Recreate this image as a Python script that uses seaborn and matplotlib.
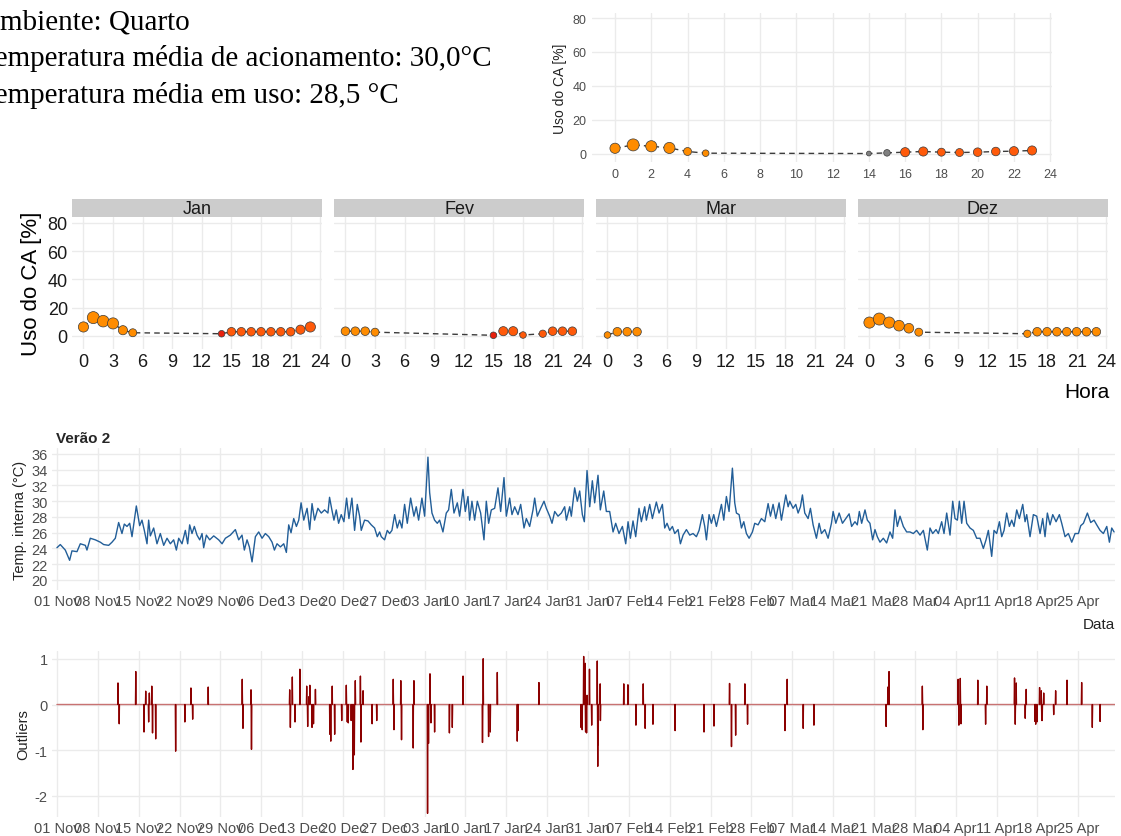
import numpy as np
import pandas as pd
import matplotlib
matplotlib.use("Agg")
import matplotlib.pyplot as plt
import seaborn as sns

# ---------------- data ----------------
# overall hourly AC usage (top right panel)
geral_hora = [0, 1, 2, 3, 4, 5, 14, 15, 16, 17, 18, 19, 20, 21, 22, 23]
geral_uso = [3.1, 5.1, 4.3, 3.3, 1.2, 0.2, 0.0, 0.4, 0.8, 1.2, 0.8, 0.6, 0.8, 1.2, 1.4, 1.8]
geral_peso = [9, 11, 10, 10, 7, 6, 5, 6, 8, 8, 7, 7, 7.5, 7.5, 8, 8]
geral_faixa = ['a', 'a', 'a', 'a', 'a', 'a', 'c', 'c', 'b', 'b', 'b', 'b', 'b', 'b', 'b', 'b']

# monthly facets
meses = ['Jan', 'Fev', 'Mar', 'Dez']
jan_hora = [0, 1, 2, 3, 4, 5, 14, 15, 16, 17, 18, 19, 20, 21, 22, 23]
jan_uso = [6.4, 13.0, 10.5, 8.9, 4.1, 2.3, 1.6, 3.0, 3.0, 3.0, 3.0, 3.0, 3.0, 3.0, 4.5, 6.4]
jan_peso = [9, 11, 10.5, 10, 8, 7, 6, 7.5, 7.5, 7.5, 7.5, 7.5, 7.5, 7.5, 8, 9]
jan_faixa = ['a', 'a', 'a', 'a', 'a', 'a', 'd', 'b', 'b', 'b', 'b', 'b', 'b', 'b', 'b', 'b']

fev_hora = [0, 1, 2, 3, 15, 16, 17, 18, 20, 21, 22, 23]
fev_uso = [3.4, 3.4, 3.4, 2.7, 0.5, 3.4, 3.4, 0.7, 1.6, 3.4, 3.4, 3.4]
fev_peso = [7.5, 7.5, 7.5, 7, 6, 8, 8, 6, 6.5, 7.5, 7.5, 7.5]
fev_faixa = ['a', 'a', 'a', 'a', 'd', 'b', 'b', 'b', 'b', 'b', 'b', 'b']

mar_hora = [0, 1, 2, 3]
mar_uso = [0.7, 3.0, 3.0, 3.0]
mar_peso = [6, 7.5, 7.5, 7.5]
mar_faixa = ['a', 'a', 'a', 'a']

dez_hora = [0, 1, 2, 3, 4, 5, 16, 17, 18, 19, 20, 21, 22, 23]
dez_uso = [9.5, 12.0, 9.5, 7.3, 5.5, 2.7, 1.6, 3.0, 3.0, 3.0, 3.0, 3.0, 3.0, 3.0]
dez_peso = [10, 11, 10, 9.5, 8.5, 7, 6.5, 7.5, 7.5, 7.5, 7.5, 7.5, 7.5, 7.5]
dez_faixa = ['a'] * 14

# indoor temperature (days since 01 Nov 2018, degC)
temp_dia = [0.00, 0.57, 1.43, 2.17, 2.57, 3.43, 4.00, 4.86, 5.14, 5.71, 6.57, 7.43, 8.00, 8.86, 9.43,
            10.00, 10.57, 11.14, 11.54, 12.00, 12.46, 12.86, 13.60, 14.17, 14.57, 14.97, 15.43, 15.71,
            16.00, 16.57, 17.14, 17.71, 18.29, 18.86, 19.43, 20.00, 20.46, 20.86, 21.43, 22.00, 22.40,
            22.74, 23.14, 23.54, 24.00, 24.46, 24.86, 25.14, 25.60, 26.17, 26.86, 27.71, 28.29, 28.86,
            29.71, 30.57, 31.14, 31.71, 32.11, 32.57, 32.97, 33.43, 34.00, 34.57, 35.14, 35.71, 36.29,
            36.86, 37.26, 37.71, 38.29, 38.86, 39.31, 39.71, 40.11, 40.57, 41.03, 41.43, 41.83, 42.29,
            42.86, 43.31, 43.71,
            44.14, 44.71, 45.29, 45.86, 46.43, 46.71, 47.11, 47.46, 47.86, 48.26, 48.71, 49.17, 49.63,
            50.03, 50.54, 51.00, 51.46, 51.86, 52.14, 52.71, 53.29, 53.86, 54.43, 54.89, 55.29, 55.57,
            56.14, 56.60, 57.00, 57.40, 57.86, 58.31, 58.71, 59.11, 59.57, 60.03, 60.60, 61.17, 61.57,
            61.97, 62.54, 63.00, 63.57, 63.86, 64.26, 64.71, 65.17, 65.57, 66.14, 66.71, 67.11, 67.57,
            68.03, 68.60, 69.00, 69.57, 69.97, 70.43, 70.71, 71.11, 71.57, 72.03, 72.60, 73.17, 73.57,
            73.97, 74.43, 75.00, 75.57, 76.03, 76.60, 77.00, 77.57, 77.97, 78.43, 79.00, 79.46, 80.03,
            80.43, 81.00, 81.57, 81.86, 82.31, 82.89, 83.46, 83.86, 84.43, 84.83, 85.29, 85.86, 86.43,
            87.00, 87.29, 87.86, 88.14, 88.71, 89.17, 89.57,
            90.03, 90.37, 90.83, 91.29, 91.74, 92.14, 92.71, 93.11, 93.69, 94.14, 94.71, 95.29, 95.74,
            96.31, 96.89, 97.46, 97.86, 98.26, 98.71, 99.17, 99.74, 100.14, 100.71, 101.00, 101.57,
            102.03, 102.71, 103.17, 103.74, 104.14, 104.54, 105.00, 105.46, 105.86, 106.43, 106.83,
            107.29, 107.86, 108.43, 109.00, 109.57, 110.03, 110.60, 111.00, 111.29, 111.74, 112.14,
            112.54, 113.00, 113.46, 113.86, 114.26, 114.71, 115.17, 115.74, 116.14, 116.43, 116.89,
            117.29, 117.69, 118.14, 118.60, 119.17, 119.57, 120.14, 120.71, 121.29, 121.86, 122.26,
            122.71, 123.17, 123.74, 124.14, 124.54, 124.89, 125.29, 125.57, 126.14, 126.60, 127.00,
            127.40, 127.74, 128.14, 128.71, 129.11, 129.57, 130.14, 130.60, 131.00, 131.57, 132.14,
            132.71, 133.00, 133.46, 134.03, 134.60, 135.17, 135.74,
            136.17, 136.74, 137.14, 137.49, 137.89, 138.46, 138.86, 139.31, 139.77, 140.17, 140.57,
            141.03, 141.60, 142.17, 142.74, 143.20, 143.60, 144.00, 144.46, 145.03, 145.60, 146.17,
            146.74, 147.31, 147.89, 148.46, 149.14, 149.60, 150.06, 150.63, 151.03, 151.60, 152.00,
            152.46, 153.03, 153.49, 153.89, 154.29, 154.63, 155.03, 155.43, 155.89, 156.46, 157.03,
            157.60, 158.17, 158.74, 159.20, 159.60, 160.17, 160.57, 161.03, 161.49, 161.89, 162.29,
            162.74, 163.20, 163.60, 164.00, 164.46, 164.91, 165.49, 165.89, 166.17, 166.74, 167.31,
            167.89, 168.46, 168.91, 169.31, 169.71, 170.17, 170.63, 171.20, 171.77, 172.17, 172.74,
            173.31, 173.89, 174.46, 175.03, 175.43, 175.89, 176.57, 177.14, 177.71, 178.17, 178.74,
            179.31, 179.89, 180.34, 180.74, 181.14]
temp_val = [24.1, 24.5, 23.8, 22.5, 23.7, 23.6, 24.6, 24.4, 23.8, 25.3, 25.1, 24.8, 24.5, 24.4, 24.8,
            25.3, 27.3, 25.9, 27.1, 26.8, 27.2, 25.5, 29.4, 26.9, 27.6, 26.3, 24.6, 27.6,
            25.6, 26.6, 24.6, 25.9, 24.4, 25.3, 24.6, 25.1, 23.8, 25.3, 24.6, 26.3, 24.6,
            27.0, 25.9, 26.8, 25.7, 25.1, 25.9, 24.1, 25.7, 25.1, 25.6, 25.1, 24.6, 25.3,
            25.7, 26.4, 25.1, 25.7, 23.8, 25.1, 24.2, 22.3, 25.5, 26.1, 25.3, 25.9, 25.5,
            24.8, 23.8, 24.6, 24.2, 24.6, 23.5, 27.0, 26.0, 27.8, 26.8, 27.6, 29.8, 27.6,
            29.1, 26.4, 29.7,
            27.6, 29.1, 28.5, 28.9, 28.5, 30.5, 28.9, 27.6, 28.9, 27.2, 28.3, 27.4, 30.4,
            27.8, 30.4, 26.3, 29.6, 28.1, 26.3, 27.6, 27.5, 27.0, 26.6, 25.5, 26.1, 25.5,
            25.1, 26.3, 25.9, 26.3, 28.3, 26.6, 27.6, 26.6, 29.6, 27.2, 30.4, 28.1, 29.3,
            27.6, 30.4, 28.1, 35.6, 31.1, 28.5, 27.6, 27.2, 27.6, 26.1, 28.5, 28.9, 31.5,
            28.5, 29.8, 28.1, 31.5, 28.7, 30.6, 27.6, 30.0, 27.6, 30.0, 28.5, 25.1, 30.0,
            27.2, 28.9, 29.1, 31.7, 28.7, 33.0, 28.1, 30.4, 28.3, 29.3, 28.3, 29.6, 26.6,
            27.8, 26.8, 28.9, 30.4, 28.1, 29.1, 30.0, 29.1, 28.1, 27.2, 28.7, 28.1, 28.5,
            29.3, 27.6, 29.3, 28.1, 31.7, 30.0, 31.3,
            28.3, 27.4, 33.9, 29.3, 32.6, 29.8, 33.3, 28.9, 31.3, 28.7, 28.7, 26.1, 27.2,
            25.9, 26.8, 24.6, 27.4, 25.3, 27.5, 25.5, 29.1, 27.4, 29.3, 27.6, 29.6,
            27.8, 29.9, 28.5, 29.6, 26.6, 27.2, 26.3, 26.8, 25.9, 26.4, 24.6,
            25.7, 26.4, 25.7, 25.9, 25.5, 26.3, 28.3, 26.8, 25.1, 28.3, 27.2,
            28.3, 26.8, 28.3, 29.6, 27.6, 30.6, 28.7, 34.2, 29.8, 28.5, 28.3,
            26.6, 27.4, 25.9, 25.3, 26.1, 27.2, 27.0, 27.8, 27.4, 29.7, 28.1,
            29.6, 27.8, 29.8, 27.6, 29.3, 30.8, 29.3, 30.0, 29.1, 29.6, 28.5,
            29.3, 30.8, 28.5, 27.8, 29.1, 27.0, 25.3, 27.2, 25.9, 26.4, 25.3,
            27.2, 28.7, 27.2, 28.5, 27.2, 27.8, 28.4,
            26.8, 27.4, 27.0, 28.7, 27.2, 28.9, 27.6, 27.2, 25.1, 26.4, 25.5,
            24.8, 25.3, 24.7, 26.1, 25.3, 28.9, 26.8, 28.1, 26.8, 26.1, 26.1,
            25.9, 26.3, 25.7, 26.3, 23.8, 26.6, 25.9, 26.4, 25.9, 27.4, 25.9,
            28.5, 25.7, 30.0, 27.8, 27.6, 30.0, 27.2, 30.0, 27.2, 26.6, 26.3,
            25.3, 25.3, 24.0, 25.1, 26.3, 23.0, 26.3, 25.9, 27.4, 25.5, 26.3,
            28.5, 26.8, 27.6, 26.8, 28.9, 27.8, 29.6, 27.4, 28.3, 25.5, 28.3,
            28.1, 25.9, 27.8, 25.5, 28.5, 27.0, 28.3, 27.4, 28.3, 27.2, 25.5,
            25.9, 24.8, 25.9, 25.9, 26.9, 27.2, 28.5, 27.3, 27.6, 27.0, 26.3,
            25.9, 26.8, 24.8, 26.6, 26.1]

# outliers (days since 01 Nov 2018, value)
outl_dia = [10.47, 10.65, 13.51, 14.91, 15.22, 15.70, 15.82, 16.25, 16.37, 16.92, 20.33, 21.91, 22.95,
            23.25, 25.93, 31.77, 31.89, 33.23, 33.35, 39.87, 39.99, 40.35, 40.78, 41.63, 42.79, 42.97,
            43.15, 43.34, 43.70, 43.94, 44.31, 46.74, 46.93, 47.17, 47.60, 48.81, 49.60, 49.73, 49.91,
            50.40, 50.70, 50.94, 51.13, 51.98, 52.10, 52.47, 53.99, 54.78, 57.64, 57.76, 58.92, 59.04,
            61.05, 61.17, 63.48, 63.66, 63.91, 64.09, 64.70, 67.26, 67.74, 69.57, 72.91, 73.04, 73.95,
            74.25, 75.47, 78.88, 79.00, 82.59,
            89.78, 90.02, 90.27, 90.51, 90.57, 90.76, 90.82, 91.24, 91.61, 92.59, 92.65, 92.77, 93.08,
            93.14, 97.11, 97.85, 99.19, 100.47, 100.78, 102.12, 105.91, 110.87, 112.58, 115.27, 115.57,
            116.31, 117.89, 118.32, 124.74, 125.11, 127.86, 129.69, 142.08, 142.38, 142.57, 148.31,
            148.37, 154.43, 154.55, 154.79, 154.91, 157.79, 159.13, 159.32, 164.08, 164.21, 164.39,
            165.92, 166.10, 167.57, 167.69, 167.93, 168.36, 168.67, 168.73, 168.85, 169.09, 170.80,
            171.11, 173.07, 175.57, 177.41, 178.75]
outl_val = [0.47, -0.42, 0.72, -0.60, 0.29, -0.38, 0.25, 0.40, -0.62, -0.75, -1.02, -0.38, 0.36,
            -0.32, 0.38, 0.55, -0.52, 0.32, -0.98, 0.32, -0.50, 0.60, -0.38, 0.77, 0.40, -0.48,
            0.17, 0.42, -0.50, -0.42, 0.33, -0.65, -0.80, 0.40, -0.65, -0.35, 0.42, -0.38, -0.40,
            -0.35, -1.42, -1.10, 0.52, 0.62, -0.82, 0.30, -0.42, -0.35, 0.55, -0.55, 0.52, -0.77,
            -0.95, 0.52, -2.38, -0.85, 0.67, -0.40, -0.60, -0.62, -0.50, 0.62, -0.83, 1.00, -0.70,
            -0.60, 0.70, -0.80, -0.57, 0.48,
            -0.50, -0.55, 1.05, 0.90, -0.60, -0.62, 0.20, 0.77, -0.45, 0.95, -1.35, -0.88, 0.45,
            -0.35, 0.45, 0.43, -0.45, 0.45, -0.52, -0.43, -0.57, -0.60, -0.47, 0.46, -0.92,
            -0.67, 0.45, -0.43, -0.57, 0.55, -0.52, -0.45, -0.48, 0.38, 0.72, 0.40,
            -0.55, 0.55, -0.45, 0.57, -0.42, 0.53, -0.43, 0.40, 0.58, -0.43, 0.47,
            -0.30, 0.33, -0.37, -0.43, -0.38, 0.37, 0.30, -0.35, -0.35, 0.25, -0.22,
            0.30, 0.53, 0.48, -0.50, -0.37]
outl_fim_dia = 181.5

inicio = pd.Timestamp('2018-11-01')
date_ticks = pd.date_range('2018-11-01', '2019-04-25', freq='7D')

# ---------------- style ----------------
sns.set_style('white')
plt.rcParams['font.family'] = ['Liberation Sans', 'DejaVu Sans']
plt.rcParams['axes.unicode_minus'] = False

W, H = 1121, 837
fig = plt.figure(figsize=(W / 100, H / 100), dpi=100)
GRID = '#EBEBEB'
TXT = '#4D4D4D'
pal = {'a': '#FF8C00', 'b': '#FF5A0A', 'c': '#808080', 'd': '#E8200C'}


def px_axes(x0, y0, x1, y1):
    return fig.add_axes([x0 / W, 1 - y1 / H, (x1 - x0) / W, (y1 - y0) / H])


def minimal(ax):
    for s in ax.spines.values():
        s.set_visible(False)
    ax.grid(True, color=GRID, lw=1.0)
    ax.set_axisbelow(True)
    ax.tick_params(length=0)


def uso_panel(ax, hora, uso, peso, faixa):
    df = pd.DataFrame({'hora': hora, 'uso': uso, 'peso': peso, 'faixa': faixa})
    sns.lineplot(data=df, x='hora', y='uso', ax=ax, color='#3C3C3C', lw=1.0,
                 linestyle=(0, (4, 3)), zorder=2)
    sns.scatterplot(data=df, x='hora', y='uso', hue='faixa', palette=pal, size='peso',
                    sizes=(12, 75), size_norm=(5, 11), edgecolor='#3A3A3A', linewidth=0.5,
                    legend=False, ax=ax, zorder=3)
    ax.set_xlabel('')
    ax.set_ylabel('')


# ---------------- top-left text ----------------
tx = -21 / W
for i, line in enumerate(['Ambiente: Quarto',
                          'Temperatura média de acionamento: 30,0°C',
                          'Temperatura média em uso: 28,5 °C']):
    fig.text(tx, 1 - (30 + 36.5 * i) / H, line, family='Liberation Serif', fontsize=21,
             va='baseline', ha='left', color='black')

# ---------------- top-right overall panel ----------------
ax0 = px_axes(592, 14, 1052, 163)
minimal(ax0)
uso_panel(ax0, geral_hora, geral_uso, geral_peso, geral_faixa)
ax0.set_xlim(-1.27, 24.1)
ax0.set_ylim(-5, 83)
ax0.set_xticks(range(0, 25, 2))
ax0.set_yticks(range(0, 81, 20))
ax0.tick_params(labelsize=9, labelcolor=TXT, pad=4)
ax0.set_ylabel('Uso do CA [%]', fontsize=10, color='#222222', labelpad=4)

# ---------------- monthly facets ----------------
dados_mes = {
    'Jan': (jan_hora, jan_uso, jan_peso, jan_faixa),
    'Fev': (fev_hora, fev_uso, fev_peso, fev_faixa),
    'Mar': (mar_hora, mar_uso, mar_peso, mar_faixa),
    'Dez': (dez_hora, dez_uso, dez_peso, dez_faixa),
}
facet_x = [72, 334, 596, 858]
for i, m in enumerate(meses):
    x0 = facet_x[i]
    ax = px_axes(x0, 218, x0 + 250, 350)
    minimal(ax)
    uso_panel(ax, *dados_mes[m])
    ax.set_xlim(-1.16, 24.18)
    ax.set_ylim(-9.2, 84.2)
    ax.set_xticks(range(0, 25, 3))
    ax.set_yticks(range(0, 81, 20))
    ax.tick_params(labelsize=13, labelcolor='#1A1A1A', pad=3)
    if i > 0:
        ax.set_yticklabels([])
    else:
        ax.set_ylabel('Uso do CA [%]', fontsize=16, color='black', labelpad=4)
    sax = px_axes(x0, 200, x0 + 250, 218)
    sax.set_facecolor('#CCCCCC')
    for s in sax.spines.values():
        s.set_visible(False)
    sax.set_xticks([])
    sax.set_yticks([])
    sax.text(0.5, 0.45, m, ha='center', va='center', fontsize=13, color='#1A1A1A',
             transform=sax.transAxes)
fig.text(1110 / W, 1 - 393 / H, 'Hora', ha='right', va='center', fontsize=15, color='black')

# ---------------- temperature series ----------------
xlo = inicio + pd.Timedelta(days=-0.85)
xhi = inicio + pd.Timedelta(days=181.3)

axt = px_axes(52, 449, 1115, 591)
minimal(axt)
tdf = pd.DataFrame({'data': inicio + pd.to_timedelta(temp_dia, unit='D'), 'temp': temp_val})
sns.lineplot(data=tdf, x='data', y='temp', ax=axt, color='#225E98', lw=1.0)
axt.set_xlim(xlo, xhi)
axt.set_ylim(18.73, 36.76)
axt.set_yticks(range(20, 37, 2))
axt.set_xticks(date_ticks)
axt.set_xticklabels([d.strftime('%d %b') for d in date_ticks])
axt.tick_params(labelsize=10.5, labelcolor=TXT, pad=3)
axt.set_xlabel('')
axt.set_ylabel('Temp. interna (°C)', fontsize=10.5, color='#222222', labelpad=3)
axt.set_title('Verão 2', loc='left', fontsize=11, fontweight='bold', pad=4, x=0.004)
fig.text(1115 / W, 1 - 625 / H, 'Data', ha='right', va='center', fontsize=11, color='#222222')

# ---------------- outliers ----------------
n_h = int(outl_fim_dia * 24) + 1
serie = np.zeros(n_h)
for d, v in zip(outl_dia, outl_val):
    serie[int(round(d * 24))] = v
perto = np.convolve((serie != 0).astype(float), np.ones(3), mode='same') > 0
inicio_grupo = perto & ~np.concatenate([[False], perto[:-1]])
grupo = np.cumsum(inicio_grupo)
odf = pd.DataFrame({'data': inicio + pd.to_timedelta(np.arange(n_h), unit='h'),
                    'out': serie, 'perto': perto, 'grupo': grupo})
picos = odf[odf['perto']]

axo = px_axes(52, 652, 1115, 818)
minimal(axo)
sns.lineplot(data=odf, x='data', y='out', ax=axo, color='#C87272', lw=1.0)
sns.lineplot(data=picos, x='data', y='out', units='grupo', estimator=None, ax=axo,
             color='#8B0000', lw=0.9)
axo.set_xlim(xlo, xhi)
axo.set_ylim(-2.46, 1.17)
axo.set_yticks([-2, -1, 0, 1])
axo.set_xticks(date_ticks)
axo.set_xticklabels([d.strftime('%d %b') for d in date_ticks])
axo.tick_params(labelsize=10.5, labelcolor=TXT, pad=3)
axo.set_xlabel('')
axo.set_ylabel('Outliers', fontsize=10.5, color='#222222', labelpad=3)

fig.savefig('out.png', dpi=100)
